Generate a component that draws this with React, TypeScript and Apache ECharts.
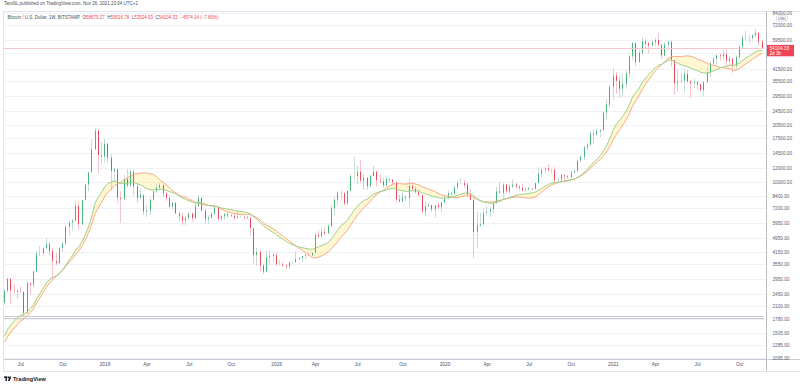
import React, { useEffect, useRef } from 'react';
import * as echarts from 'echarts';

// ---------- DATA (weekly candles, BITSTAMP BTCUSD, first week 2017-05-29) ----------
const FIRST_WEEK_UTC = Date.UTC(2017, 4, 29);

const opens = [
  2200, 2545, 2960, 2560, 2550, 2520, 2510, 1930, 2800, 2750, 3250, 4080, 4100, 4350, 4600, 4200, 3700, 3620, 4380, 4620, 5700, 6000, 6150, 7400, 5900, 8000, 9700, 11300, 15100, 19100, 14000,
  13800, 16200, 13600, 11500, 11750, 8200, 8100, 10400, 9600, 11400, 9500, 8200, 8500, 6900, 7000, 8000, 8900, 9350, 9650, 8700, 8200, 7350, 7700, 6750, 6500, 6150, 6380, 6750, 6350, 7400, 8200, 7000, 6300, 6400, 6700, 7300, 6300, 6500, 6700, 6600, 6550, 6400, 6450, 6450, 6400, 6350, 5600, 4000, 4150, 3500, 3250, 3900, 3950,
  4000, 3550, 3550, 3500, 3450, 3650, 3650, 3800, 3850, 3950, 4000, 3990, 4100, 5150, 5050, 5350, 5250, 5750, 7200, 8000, 8750, 8700, 7650, 8950, 10800, 10800, 11400, 10200, 10550, 9500, 10800, 11400, 10250, 10100, 9600, 10400, 10300, 10000, 8050, 7850, 8300, 8200, 9550, 9200, 8800, 8500, 6900, 7400, 7500, 7100, 7500, 7300,
  7750, 8180, 8700, 8600, 9350, 9900, 9900, 9650, 8550, 8000, 5350, 5800, 5880, 6800, 6900, 7100, 7700, 8900, 8750, 9700, 8900, 9450, 9700, 9450, 9300, 9000, 9100, 9250, 9200, 9900, 11100, 11700, 11900, 11650, 11700, 10250, 10300, 10950, 10750, 10650, 11300, 11500, 13100, 13750, 15500, 16000, 18400, 18200, 19000, 19250, 24000, 26450,
  33000, 38200, 35800, 32300, 34300, 39250, 48600, 57400, 45200, 50900, 59000, 57300, 55800, 58200, 59800, 56200, 49100, 56600, 58200, 46400, 34700, 35500, 35800, 39000, 35500, 34700, 35300, 34200, 31800, 35400, 39900, 44600, 47100, 49300, 48800, 49900, 46000, 47300, 43200, 48200, 55000, 61500, 61300, 61300, 63300, 65500, 58679.27,
];

const highs = [
  2600, 3000, 2990, 2780, 2600, 2700, 2540, 2900, 2840, 3280, 4200, 4480, 4400, 4980, 4730, 4400, 4100, 4400, 4650, 5850, 6150, 6300, 7900, 7900, 8000, 9700, 11400, 17200, 19700, 19400, 16500,
  17200, 16300, 14200, 12000, 11900, 8900, 10900, 11800, 11700, 11700, 9900, 9200, 8500, 7500, 8200, 9000, 9800, 9950, 9700, 8900, 8400, 7800, 7800, 6900, 6850, 6550, 6800, 6800, 7700, 8500, 8250, 7150, 6600, 6900, 7300, 7400, 6600, 6800, 6800, 6700, 6750, 7000, 6550, 6500, 6550, 6450, 5600, 4400, 4300, 3600, 4250, 4250, 4100,
  4150, 3750, 3650, 3550, 3700, 3700, 4200, 3900, 3950, 4050, 4100, 4150, 5300, 5450, 5650, 5650, 5900, 7500, 8300, 8900, 9000, 8800, 9000, 11100, 13800, 12300, 13200, 11100, 10700, 11000, 12300, 11500, 10950, 10600, 10900, 10500, 10400, 10050, 8500, 8800, 8450, 10500, 9950, 9500, 9100, 8500, 7850, 7700, 7500, 7500, 7700, 7800,
  8500, 9000, 8800, 9600, 10200, 10500, 10300, 9950, 9200, 8200, 6900, 6850, 7200, 7450, 7300, 7750, 9450, 10050, 9900, 9850, 9750, 10400, 9950, 9600, 9800, 9300, 9450, 9300, 9900, 12000, 12100, 12100, 12500, 11700, 12100, 10600, 11100, 10950, 10950, 11500, 11700, 13300, 14100, 15800, 16500, 18800, 19450, 19900, 19400, 24200, 28400, 34000,
  41950, 40100, 37800, 38600, 40900, 49700, 58300, 57500, 52600, 61700, 60600, 58500, 60000, 61200, 64900, 57000, 58400, 59500, 59600, 46700, 40900, 39500, 41300, 41000, 36000, 36600, 35300, 34700, 35400, 42600, 45300, 48100, 49900, 50500, 52900, 52800, 48800, 47400, 49200, 56500, 62800, 67000, 63700, 64300, 69000, 66300, 59516.78,
];

const lows = [
  2140, 2480, 2150, 2450, 2300, 2480, 1840, 1920, 2450, 2650, 3200, 3950, 3950, 4320, 3980, 2970, 3500, 3580, 4150, 4550, 5100, 5400, 6100, 5500, 5800, 7900, 8900, 11200, 15000, 11200, 12500,
  12800, 12800, 9000, 10000, 7700, 6000, 8000, 9300, 9400, 8500, 7700, 8100, 6600, 6450, 6600, 7900, 8700, 9000, 8300, 7900, 7200, 7050, 6700, 6100, 5800, 5800, 6200, 6050, 6300, 7350, 6900, 5900, 5900, 6300, 6650, 6100, 6150, 6200, 6400, 6450, 6200, 6300, 6400, 6250, 6300, 5100, 3600, 3500, 3250, 3150, 3200, 3550, 3650,
  3500, 3500, 3450, 3350, 3350, 3550, 3650, 3750, 3700, 3800, 3950, 3950, 4100, 4950, 5000, 5100, 5200, 5700, 6600, 7500, 8050, 7450, 7550, 8950, 10300, 9700, 9900, 9100, 9100, 9400, 10800, 9500, 9800, 9300, 9600, 9900, 9600, 7700, 7750, 7800, 7900, 7300, 8950, 8700, 8300, 6800, 6500, 7300, 6850, 6400, 7100, 6850,
  7700, 8050, 8250, 8550, 9150, 9700, 9300, 8500, 8000, 3850, 4400, 5700, 5850, 6550, 6450, 6800, 7600, 8700, 8100, 8700, 8600, 9300, 9250, 9000, 8900, 8900, 9050, 9000, 9100, 9900, 10650, 11100, 11350, 11150, 9850, 9900, 10200, 10150, 10450, 10550, 11200, 11400, 12900, 13200, 14800, 15800, 16200, 18000, 17600, 19000, 21800, 25900,
  28000, 30300, 28800, 29200, 32300, 37400, 46600, 43000, 45000, 49300, 53300, 50500, 55400, 55500, 55000, 47000, 48800, 53000, 42500, 30000, 31300, 34800, 31000, 34800, 28800, 32700, 32100, 31100, 29300, 34700, 37500, 43800, 43800, 46300, 46800, 42800, 43400, 39600, 40800, 47000, 53900, 59500, 58000, 59400, 62300, 55600, 53524.03,
];

const closes = [
  2545, 2960, 2560, 2550, 2520, 2510, 1930, 2800, 2750, 3250, 4080, 4100, 4350, 4600, 4200, 3700, 3620, 4380, 4620, 5700, 6000, 6150, 7400, 5900, 8000, 9700, 11300, 15100, 19100, 14000, 13800,
  16200, 13600, 11500, 11750, 8200, 8100, 10400, 9600, 11400, 9500, 8200, 8500, 6900, 7000, 8000, 8900, 9350, 9650, 8700, 8200, 7350, 7700, 6750, 6500, 6150, 6380, 6750, 6350, 7400, 8200, 7000, 6300, 6400, 6700, 7300, 6300, 6500, 6700, 6600, 6550, 6400, 6450, 6450, 6400, 6350, 5600, 4000, 4150, 3500, 3250, 3900, 3950, 4000,
  3550, 3550, 3500, 3450, 3650, 3650, 3800, 3850, 3950, 4000, 3990, 4100, 5150, 5050, 5350, 5250, 5750, 7200, 8000, 8750, 8700, 7650, 8950, 10800, 10800, 11400, 10200, 10550, 9500, 10800, 11400, 10250, 10100, 9600, 10400, 10300, 10000, 8050, 7850, 8300, 8200, 9550, 9200, 8800, 8500, 6900, 7400, 7500, 7100, 7500, 7300, 7750,
  8180, 8700, 8600, 9350, 9900, 9900, 9650, 8550, 8000, 5350, 5800, 5880, 6800, 6900, 7100, 7700, 8900, 8750, 9700, 8900, 9450, 9700, 9450, 9300, 9000, 9100, 9250, 9200, 9900, 11100, 11700, 11900, 11650, 11700, 10250, 10300, 10950, 10750, 10650, 11300, 11500, 13100, 13750, 15500, 16000, 18400, 18200, 19000, 19250, 24000, 26450, 33000,
  38200, 35800, 32300, 34300, 39250, 48600, 57400, 45200, 50900, 59000, 57300, 55800, 58200, 59800, 56200, 49100, 56600, 58200, 46400, 34700, 35500, 35800, 39000, 35500, 34700, 35300, 34200, 31800, 35400, 39900, 44600, 47100, 49300, 48800, 49900, 46000, 47300, 43200, 48200, 55000, 61500, 61300, 61300, 63300, 65500, 58700, 54104.33,
];

// weekly closes before the first visible week (Oct 2016 - May 2017), used only to seed the averages
const warmupCloses = [
  615, 638, 655, 700, 705, 702, 730, 735, 765, 775, 790, 890, 995,
  905, 820, 920, 915, 1020, 1000, 1050, 1170, 1270, 1230, 970, 960, 1090, 1180, 1170, 1240, 1420, 1550, 1760, 2050, 2200,
];

// price levels with a grid line; the 50500 label is hidden behind the last-price tag
const yGridValues = [
  84000, 72000, 59500, 50500, 41500, 35500, 29500, 24500, 20500, 17500, 14500, 12000, 10000,
  8400, 7200, 5950, 4950, 4150, 3550, 2950, 2450, 2100, 1780, 1505, 1285, 1095,
];
const yLabelValues = [
  84000, 72000, 59500, 41500, 35500, 29500, 24500, 20500, 17500, 14500, 12000, 10000,
  8400, 7200, 5950, 4950, 4150, 3550, 2950, 2450, 2100, 1780, 1505, 1285, 1095,
];

const xTickLabels: [string, string][] = [
  ['2017-07-03', 'Jul'], ['2017-10-02', 'Oct'], ['2018-01-01', '2018'], ['2018-04-02', 'Apr'],
  ['2018-07-02', 'Jul'], ['2018-10-01', 'Oct'], ['2019-01-07', '2019'], ['2019-04-01', 'Apr'],
  ['2019-07-01', 'Jul'], ['2019-10-07', 'Oct'], ['2020-01-06', '2020'], ['2020-04-06', 'Apr'],
  ['2020-07-06', 'Jul'], ['2020-10-05', 'Oct'], ['2021-01-04', '2021'], ['2021-04-05', 'Apr'],
  ['2021-07-05', 'Jul'], ['2021-10-04', 'Oct'],
];

const guideLevels = [1845, 1800];
const lastPrice = 54104.33;
const countdown = '2d 3h';
const headerAuthor = 'TaroNL published on TradingView.com, Nov 26, 2021 23:04 UTC+1';
const headerSymbol = 'Bitcoin / U.S. Dollar, 1W, BITSTAMP';
const headerO = '58679.27';
const headerH = '59516.78';
const headerL = '53524.03';
const headerC = '54104.33';
const headerChange = '\u22124574.14 (\u22127.80%)';

const SMA_LEN = 20;
const EMA_LEN = 21;
const Y_MIN = 1081;
const Y_MAX = 86060;

const FONT = 'Liberation Sans, Arial, sans-serif';

function buildWeekDates(n: number): string[] {
  const out: string[] = [];
  for (let i = 0; i < n; i++) {
    out.push(new Date(FIRST_WEEK_UTC + i * 7 * 86400000).toISOString().slice(0, 10));
  }
  return out;
}

export default function App() {
  const ref = useRef<HTMLDivElement>(null);

  useEffect(() => {
    document.body.style.margin = '0';
    if (!ref.current) return;
    const chart = echarts.init(ref.current, undefined, { renderer: 'svg' });

    const n = closes.length;
    const dates = buildWeekDates(n);
    const tickMap = new Map(xTickLabels);
    const labelSet = new Set(yLabelValues);

    const all = [...warmupCloses, ...closes];
    const W = warmupCloses.length;
    const sma: number[] = [];
    for (let i = 0; i < n; i++) {
      const k = i + W;
      let s = 0;
      for (let j = k - SMA_LEN + 1; j <= k; j++) s += all[j];
      sma.push(s / SMA_LEN);
    }
    const alpha = 2 / (EMA_LEN + 1);
    let e = all[0];
    const emaAll = all.map((c) => (e = e + alpha * (c - e)));
    const ema = emaAll.slice(W);

    const candleWicks = opens.map((o, i) => [o, closes[i], lows[i], highs[i]]);
    const candleBodies = opens.map((o, i) => [o, closes[i], Math.min(o, closes[i]), Math.max(o, closes[i])]);

    const option: any = {
      animation: false,
      backgroundColor: '#ffffff',
      grid: { left: 3, right: 36, top: 11, bottom: 28, containLabel: false, outerBoundsMode: 'none' },
      xAxis: {
        type: 'category',
        data: dates,
        boundaryGap: true,
        axisLine: { show: false },
        axisTick: { show: false },
        splitLine: { show: false },
        axisLabel: {
          interval: (_i: number, v: string) => tickMap.has(v),
          formatter: (v: string) => tickMap.get(v) ?? '',
          fontSize: 4.8,
          color: '#50535e',
          margin: 3,
          fontFamily: FONT,
        },
      },
      yAxis: {
        type: 'log',
        logBase: 10,
        min: Y_MIN,
        max: Y_MAX,
        position: 'right',
        axisLine: { show: false },
        axisTick: { show: false },
        axisLabel: { show: false },
        splitLine: { show: false },
      },
      series: [
        {
          name: 'grid',
          type: 'custom',
          z: 0,
          silent: true,
          data: yGridValues.map((v) => [0, v]),
          encode: { x: 0, y: 1 },
          renderItem: (params: any, api: any) => {
            const v = api.value(1);
            const y = Math.round(api.coord([0, v])[1]) + 0.5;
            const cs = params.coordSys;
            const children: any[] = [
              {
                type: 'line',
                shape: { x1: cs.x, y1: y, x2: cs.x + cs.width + 2, y2: y },
                style: { stroke: '#eef1f6', lineWidth: 1 },
              },
            ];
            if (labelSet.has(v)) {
              children.push({
                type: 'text',
                x: cs.x + cs.width + 8.5,
                y: y,
                style: {
                  text: v.toFixed(2),
                  fontSize: 4.7,
                  fontFamily: FONT,
                  fill: '#5d606b',
                  align: 'left',
                  verticalAlign: 'middle',
                },
              });
            }
            return { type: 'group', children };
          },
        },
        {
          name: 'band',
          type: 'custom',
          z: 1,
          silent: true,
          data: [[0, sma[0]]],
          encode: { x: 0, y: 1 },
          renderItem: (_params: any, api: any) => {
            const pts: number[][] = [];
            for (let i = 0; i < n; i++) pts.push(api.coord([i, ema[i]]));
            for (let i = n - 1; i >= 0; i--) pts.push(api.coord([i, sma[i]]));
            return {
              type: 'polygon',
              shape: { points: pts },
              style: { fill: 'rgba(255, 232, 130, 0.36)', stroke: 'none' },
            };
          },
        },
        {
          name: 'wicks',
          type: 'candlestick',
          z: 2,
          silent: true,
          barWidth: 1.2,
          data: candleWicks,
          itemStyle: {
            color: '#c9dcd8',
            color0: '#f6c3c9',
            borderColor: '#c9dcd8',
            borderColor0: '#f6c3c9',
            borderWidth: 1,
          },
        },
        {
          name: 'BTCUSD',
          type: 'candlestick',
          z: 3,
          silent: true,
          barWidth: 1.2,
          data: candleBodies,
          itemStyle: {
            color: '#46b37a',
            color0: '#ec4a5a',
            borderColor: '#46b37a',
            borderColor0: '#ec4a5a',
            borderWidth: 1,
          },
          markLine: {
            silent: true,
            symbol: ['none', 'none'],
            animation: false,
            data: [
              {
                yAxis: lastPrice,
                lineStyle: { color: '#f8c6cc', width: 1, type: 'solid' },
                label: {
                  show: true,
                  position: 'end',
                  distance: 3,
                  formatter: `${lastPrice.toFixed(2)}\n${countdown}`,
                  color: '#ffffff',
                  backgroundColor: '#ef4656',
                  fontSize: 4.7,
                  lineHeight: 5,
                  fontFamily: FONT,
                  padding: [0.8, 5, 0.6, 2.5],
                  align: 'left',
                  verticalAlign: 'top',
                  offset: [0, -3],
                },
              },
              ...guideLevels.map((v) => ({
                yAxis: v,
                lineStyle: { color: '#c9cbd1', width: 1, type: 'solid' },
                label: { show: false },
              })),
            ],
          },
        },
        {
          name: 'SMA 20',
          type: 'line',
          z: 4,
          silent: true,
          data: sma,
          symbol: 'none',
          lineStyle: { color: '#f8a985', width: 1 },
        },
        {
          name: 'EMA 21',
          type: 'line',
          z: 4,
          silent: true,
          data: ema,
          symbol: 'none',
          lineStyle: { color: '#9dd08c', width: 1 },
        },
      ],
      graphic: [
        { type: 'line', shape: { x1: 3, y1: 11.5, x2: 800, y2: 11.5 }, style: { stroke: '#e0e3eb', lineWidth: 1 }, silent: true },
        { type: 'line', shape: { x1: 3.5, y1: 11, x2: 3.5, y2: 372 }, style: { stroke: '#e0e3eb', lineWidth: 1 }, silent: true },
        { type: 'line', shape: { x1: 766.5, y1: 11, x2: 766.5, y2: 372 }, style: { stroke: '#b9bcc4', lineWidth: 1 }, silent: true },
        { type: 'line', shape: { x1: 3, y1: 359.5, x2: 800, y2: 359.5 }, style: { stroke: '#c9ccd4', lineWidth: 1 }, silent: true },
        { type: 'line', shape: { x1: 3, y1: 371.5, x2: 800, y2: 371.5 }, style: { stroke: '#e0e3eb', lineWidth: 1 }, silent: true },
        {
          type: 'text', x: 4, y: 3.5, silent: true,
          style: { text: headerAuthor, fontSize: 4.5, fontFamily: FONT, fill: '#4a4d57', verticalAlign: 'middle' },
        },
        {
          type: 'text', x: 7.5, y: 17.5, silent: true,
          style: {
            text: `{n|${headerSymbol}}  {k|O}{v|${headerO}}  {k|H}{v|${headerH}}  {k|L}{v|${headerL}}  {k|C}{v|${headerC}}  {v|${headerChange}}`,
            fontSize: 4.5,
            fontFamily: FONT,
            verticalAlign: 'middle',
            rich: {
              n: { fill: '#4a4d57', fontSize: 4.5, fontFamily: FONT },
              k: { fill: '#4a4d57', fontSize: 4.5, fontFamily: FONT },
              v: { fill: '#ef4656', fontSize: 4.5, fontFamily: FONT },
            },
          },
        },
        {
          type: 'text', x: 782, y: 18.5, silent: true,
          style: {
            text: 'USD', fontSize: 3.8, fontFamily: FONT, fill: '#5d606b', align: 'center', verticalAlign: 'middle',
            borderColor: '#c9ccd4', borderWidth: 0.6, borderRadius: 1, padding: [0.6, 1.5],
          },
        },
        // TradingView logo mark
        { type: 'rect', shape: { x: 4, y: 376.5, width: 3.4, height: 1.4 }, style: { fill: '#131722' }, silent: true },
        { type: 'rect', shape: { x: 5.5, y: 376.5, width: 1.4, height: 4.6 }, style: { fill: '#131722' }, silent: true },
        { type: 'circle', shape: { cx: 8.6, cy: 377.3, r: 0.8 }, style: { fill: '#131722' }, silent: true },
        { type: 'polygon', shape: { points: [[9.6, 376.5], [11.4, 376.5], [9.6, 381.1], [7.9, 381.1]] }, style: { fill: '#131722' }, silent: true },
        {
          type: 'text', x: 13, y: 379, silent: true,
          style: { text: 'TradingView', fontSize: 5.6, fontWeight: 'bold', fontFamily: FONT, fill: '#131722', verticalAlign: 'middle' },
        },
      ],
    };

    chart.setOption(option);
    return () => chart.dispose();
  }, []);

  return <div ref={ref} style={{ width: 800, height: 387 }} />;
}
